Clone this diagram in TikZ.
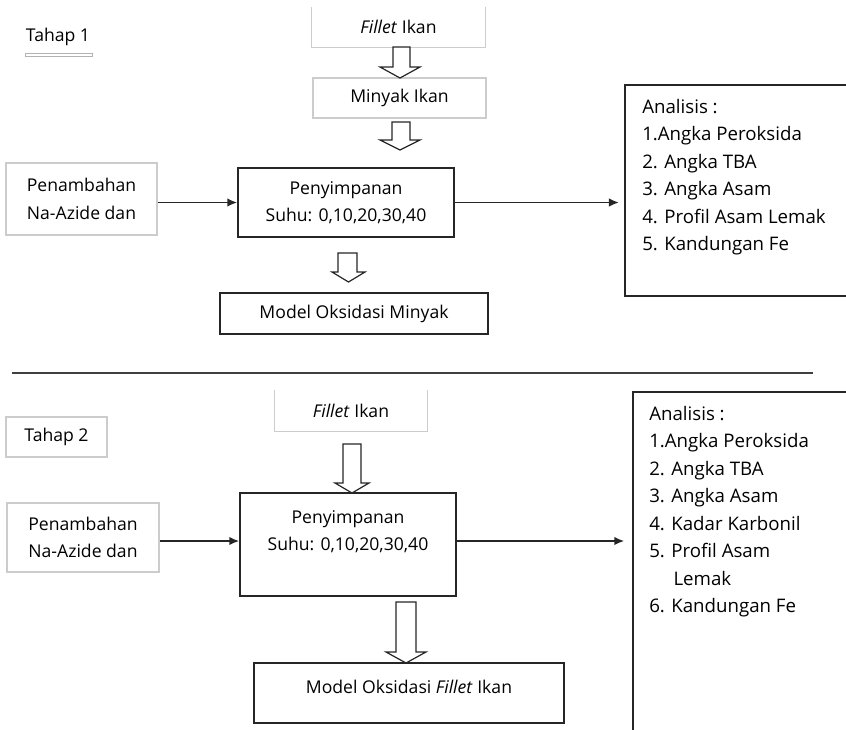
\documentclass[tikz,border=0pt]{standalone}
\usepackage{fontspec}
\setmainfont{Open Sans}
\usetikzlibrary{arrows.meta,calc}
\newcommand\hollowarrow[7]{%
  \draw[barrow] (#1,#3) -- (#2,#3) -- (#2,#4) -- (#6,#4) -- ({(#5+#6)/2},#7) -- (#5,#4) -- (#1,#4) -- cycle;}
\begin{document}
\begin{tikzpicture}[x=0.75pt,y=-0.75pt,
  lightbox/.style={draw=gray!40, line width=0.8pt, inner sep=0pt},
  darkbox/.style={draw=black!85, line width=1.1pt, inner sep=0pt},
  nobox/.style={inner sep=0pt},
  txt/.style={font=\fontsize{13.2}{20.6}\selectfont, align=center, inner sep=0pt},
  listtxt/.style={font=\fontsize{14}{20.6}\selectfont, align=left, inner sep=0pt, anchor=north west},
  conn/.style={-{Latex[length=7.5pt,width=6.5pt]}, line width=1.4pt, draw=black!85},
  barrow/.style={draw=black!85, line width=0.9pt, fill=white}]
\useasboundingbox (0,0) rectangle (846,729);

% ---------- Tahap 1 ----------
\node[txt] (tah1) at (58,37) {Tahap 1};
\draw[gray!60, line width=0.6pt] (25,53) rectangle (92,56);

\node[nobox, minimum width=129.75pt, minimum height=30pt, txt] (fil1) at (398.5,27) {\textit{Fillet} Ikan};
\draw[gray!40, line width=0.8pt] (fil1.north west) -- (fil1.south west) -- (fil1.south east) -- (fil1.north east);

\node[lightbox, txt, minimum width=129.75pt, minimum height=30pt] (min1) at (399.5,98) {Minyak Ikan};

\node[darkbox, txt, minimum width=162pt, minimum height=51.75pt] (pny1) at (346,202.5) {Penyimpanan\\Suhu: 0,10,20,30,40};
\node[lightbox, txt, minimum width=113.25pt, minimum height=54pt] (pnb1) at (81.5,199) {Penambahan\\Na-Azide dan};
\node[darkbox, txt, minimum width=201pt, minimum height=30.75pt] (mod1) at (354,313.5) {Model Oksidasi Minyak};

\node[darkbox, minimum width=206.25pt, minimum height=158.25pt] (ana1) at (762.5,190.5) {};
\node[listtxt] (anat1) at (642,99) {Analisis :\\1.Angka Peroksida\\2. Angka TBA\\3. Angka Asam\\4. Profil Asam Lemak\\5. Kandungan Fe};

\hollowarrow{393}{410}{47}{67}{380}{420}{78}
\hollowarrow{392}{410}{122}{140}{380}{420}{150}
\hollowarrow{338}{357}{253}{272}{332}{365}{282}

\draw[conn] (pny1.west -| pnb1.east) -- (pny1.west);
\draw[conn, shorten >=4pt] (pny1.east) -- (pny1.east -| ana1.west);

% separator
\coordinate (sepL) at (12,373);
\coordinate (sepR) at (813,373);
\draw[black!75, line width=1.1pt] (sepL) -- (sepR);

% ---------- Tahap 2 ----------
\node[lightbox, txt, minimum width=75.75pt, minimum height=30pt] (tah2) at (56.5,437) {Tahap 2};

\node[nobox, txt, minimum width=114pt, minimum height=30.75pt] (fil2) at (351,410.5) {\textit{Fillet} Ikan};
\draw[gray!40, line width=0.8pt] (fil2.north west) -- (fil2.south west) -- (fil2.south east) -- (fil2.north east);

\node[darkbox, txt, minimum width=162pt, minimum height=77.25pt] (pny2) at (348,544.5) {Penyimpanan\\Suhu: 0,10,20,30,40\\\mbox{}};
\node[lightbox, txt, minimum width=114pt, minimum height=51.75pt] (pnb2) at (83,537.5) {Penambahan\\Na-Azide dan};

\node[darkbox, minimum width=232.5pt, minimum height=45pt] (mod2) at (409,693) {};
\node[txt] (mod2t) at ($(mod2.center)+(0,-6)$) {Model Oksidasi \textit{Fillet} Ikan};

\node[darkbox, minimum width=200.25pt, minimum height=306pt] (ana2) at (766.5,596) {};
\node[listtxt] (anat2) at (649,406) {Analisis :\\1.Angka Peroksida\\2. Angka TBA\\3. Angka Asam\\4. Kadar Karbonil\\5. Profil Asam\\\hspace*{1.3em}Lemak\\6. Kandungan Fe};

\hollowarrow{343}{361}{444}{483}{335}{369}{493}
\hollowarrow{396}{416}{602}{652}{386}{426}{663}

\draw[conn] (pnb2.east |- 0,541) -- (pny2.west |- 0,541);
\draw[conn, shorten >=6pt] (pny2.east |- 0,541) -- (ana2.west |- 0,541);
\end{tikzpicture}
\end{document}
